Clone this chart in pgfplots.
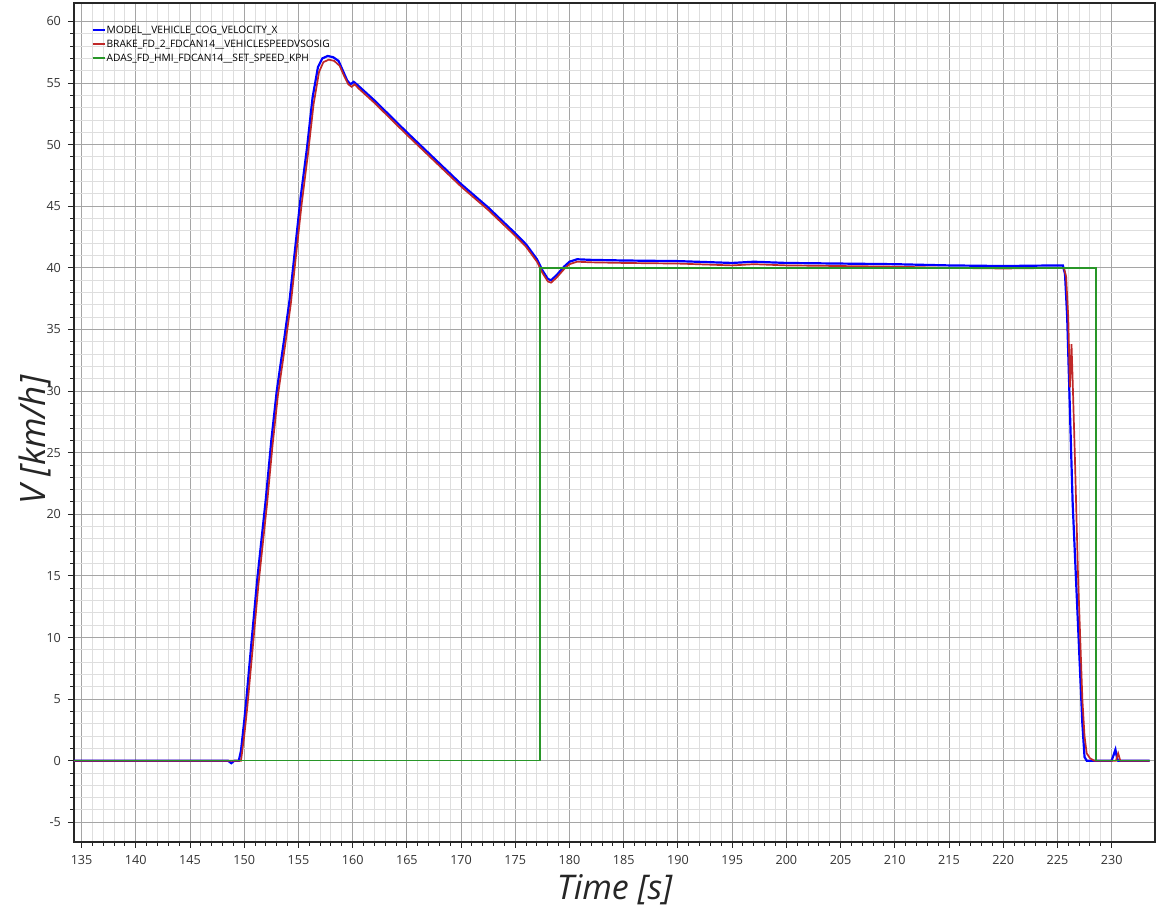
\documentclass[border=0pt]{standalone}
\usepackage{fontspec}
\setmainfont{Open Sans}
\usepackage{pgfplots}
\usetikzlibrary{calc}
\pgfplotsset{compat=1.18}
\definecolor{cblue}{RGB}{0,0,255}
\definecolor{cred}{RGB}{192,40,40}
\definecolor{cgreen}{RGB}{40,150,40}
\definecolor{majgrid}{RGB}{165,165,165}
\definecolor{mingrid}{RGB}{222,222,222}
\begin{document}
\begin{tikzpicture}
\begin{axis}[
 scale only axis, width=540.5pt, height=419.5pt,
 xmin=134.3, xmax=234, ymin=-6.6, ymax=61.5,
 xtick={135,140,...,230}, ytick={-5,0,...,60},
 minor x tick num=4, minor y tick num=4,
 grid=both,
 major grid style={majgrid, line width=0.5pt},
 minor grid style={mingrid, line width=0.5pt},
 tick align=outside, major tick length=3pt, minor tick length=1.8pt,
 tick pos=left,
 axis line style={black!85, line width=0.6pt},
 tick style={black!85, line width=0.5pt},
 ticklabel style={font=\fontsize{6.3}{7}\selectfont, text=black!80},
 /pgf/number format/assume math mode=true,
 legend style={draw=none, fill=none, at={(rel axis cs:0.015,0.977)}, anchor=north west,
   font=\fontsize{5.1}{6}\selectfont, row sep=0.5pt, inner sep=0.5pt,
   nodes={text height=4.5pt, text depth=1pt, inner sep=0.5pt}},
 legend cell align=left,
 legend image code/.code={\draw[#1, line width=1pt] (0pt,0pt) -- (6pt,0pt);},
]
\coordinate (sw) at (rel axis cs:0,0);
\coordinate (ne) at (rel axis cs:1,1);
\coordinate (ylab) at (rel axis cs:0,0.479);
\coordinate (xlab) at (rel axis cs:0.5,0);
\addplot[cblue, line width=1.1pt] coordinates {
(134.3,0) (148.5,0) (148.8,-0.2) (149.1,0) (149.5,0) (149.7,0.8) (150.0,3.2) (150.2,5.0) (150.7,9.9) (151.2,14.7) (152.0,21.3) (152.5,26.0) (153.0,30.0) (153.7,34.3) (154.2,37.5) (154.7,41.6) (155.2,45.7) (155.8,49.8) (156.3,53.8) (156.8,56.3) (157.2,57.0) (157.7,57.2) (158.2,57.1) (158.7,56.8) (159.1,56.0) (159.5,55.2) (159.8,54.9) (160.1,55.1) (160.5,54.8) (162,53.6) (165,51.0) (167.5,48.9) (170,46.8) (172.5,44.9) (175,42.8) (176,41.9) (177,40.7) (177.5,39.8) (178,39.1) (178.3,39.0) (178.8,39.4) (179.5,40.1) (180,40.5) (180.7,40.7) (182,40.65) (185,40.6) (190,40.55) (195,40.4) (197,40.5) (200,40.4) (205,40.35) (210,40.3) (215,40.2) (220,40.15) (225,40.2) (225.5,40.2) (225.7,39.5) (225.9,36) (226.1,30) (226.4,21) (226.8,13) (227.1,7) (227.3,3) (227.5,0.3) (227.7,0) (230.0,0) (230.35,0.9) (230.5,0.2) (230.6,0) (233.5,0)
};
\addlegendentry{MODEL\_\_VEHICLE\_COG\_VELOCITY\_X}
\addplot[cred, line width=0.85pt] coordinates {
(134.3,0) (149.7,0) (150.0,2.0) (150.3,4.5) (150.8,9.3) (151.3,14.2) (152.1,20.8) (152.6,25.5) (153.1,29.6) (153.8,33.9) (154.3,37.1) (154.8,41.2) (155.3,45.2) (155.9,49.4) (156.4,53.3) (156.9,55.9) (157.3,56.7) (157.8,56.9) (158.3,56.8) (158.8,56.4) (159.2,55.6) (159.6,54.9) (159.9,54.7) (160.2,54.9) (160.5,54.6) (162,53.4) (165,50.8) (167.5,48.7) (170,46.6) (172.5,44.7) (175,42.6) (176,41.7) (177,40.5) (177.5,39.6) (178,38.9) (178.3,38.8) (178.8,39.2) (179.5,39.9) (180,40.3) (180.7,40.5) (182,40.45) (185,40.4) (190,40.35) (195,40.2) (197,40.3) (200,40.2) (205,40.15) (210,40.1) (215,40.0) (220,39.95) (225,40.0) (225.6,40.0) (225.8,39.3) (226.0,36) (226.15,30.3) (226.3,33.8) (226.4,31) (226.6,25) (226.9,15) (227.1,10) (227.3,5) (227.5,2) (227.7,0.6) (228.0,0.2) (228.4,0) (230.4,0) (230.6,0.6) (230.8,0) (233.5,0)
};
\addlegendentry{BRAKE\_FD\_2\_FDCAN14\_\_VEHICLESPEEDVSOSIG}
\addplot[cgreen, line width=0.8pt] coordinates {
(134.3,0) (177.3,0) (177.3,40) (228.55,40) (228.55,0) (233.5,0)
};
\addlegendentry{ADAS\_FD\_HMI\_FDCAN14\_\_SET\_SPEED\_KPH}
\end{axis}
\node[rotate=90, font=\fontsize{17.5}{20}\selectfont\itshape, text=black!85] at ([xshift=-19.5pt]ylab) {V [km/h]};
\node[font=\fontsize{17}{20}\selectfont\itshape, text=black!85] at ([yshift=-24pt]xlab) {Time [s]};
\pgfresetboundingbox
\path[use as bounding box] ([xshift=-37pt,yshift=-33pt]sw) rectangle ([xshift=0.5pt,yshift=1.5pt]ne);
\end{tikzpicture}
\end{document}
